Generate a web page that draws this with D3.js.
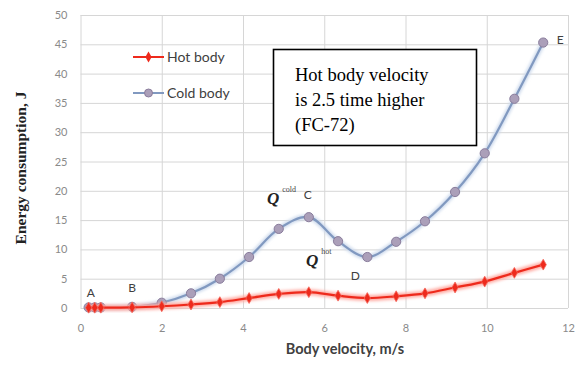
<!DOCTYPE html>
<html>
<head>
<meta charset="utf-8">
<script src="https://cdn.jsdelivr.net/npm/d3@7"></script>
<style>
  html, body { margin: 0; padding: 0; background: #fff; }
  svg { display: block; }
  .tick text { font-family: Lato, "Open Sans", sans-serif; font-size: 11px; fill: #8a8a8a; }
  .grid line { stroke: #d6d6d6; stroke-width: 1; }
  .legend-text { font-family: Lato, "Open Sans", sans-serif; font-size: 14px; fill: #404040; }
  .pt-label { font-family: Lato, "Open Sans", sans-serif; font-size: 12px; fill: #404040; }
</style>
</head>
<body>
<svg id="chart" width="583" height="365"></svg>
<script>
(function () {
  'use strict';

  const W = 583;
  const H = 365;

  // velocity, m/s
  const velocity = [0.2, 0.35, 0.5, 1.27, 2.0, 2.72, 3.43, 4.15, 4.88, 5.62, 6.34, 7.06, 7.77, 8.48, 9.22, 9.95, 10.68, 11.39];
  // energy, J
  const coldBody = [0.1, 0.1, 0.1, 0.2, 0.9, 2.5, 5.0, 8.7, 13.5, 15.5, 11.4, 8.7, 11.3, 14.8, 19.8, 26.4, 35.7, 45.3];
  const hotBody = [0.05, 0.05, 0.05, 0.1, 0.3, 0.6, 1.0, 1.7, 2.4, 2.7, 2.1, 1.7, 2.0, 2.5, 3.5, 4.5, 6.0, 7.4];

  const xTicks = [0, 2, 4, 6, 8, 10, 12];
  const yTicks = [0, 5, 10, 15, 20, 25, 30, 35, 40, 45, 50];

  const seriesNames = ['Hot body', 'Cold body'];
  const noteLines = ['Hot body velocity', 'is 2.5 time higher', '(FC-72)'];

  // letter marks along the cold curve: [point index, label]
  const pointLabels = [[1, 'A'], [3, 'B'], [9, 'C'], [11, 'D'], [17, 'E']];

  const PLOT = { left: 80.5, right: 568, top: 15, bottom: 308 };

  const svg = d3.select('#chart');
  svg.append('rect').attr('width', W).attr('height', H).attr('fill', '#fff');

  const x = d3.scaleLinear().domain([0, 12]).range([PLOT.left, PLOT.right]);
  const y = d3.scaleLinear().domain([0, 50]).range([PLOT.bottom, PLOT.top]);

  const defs = svg.append('defs');
  const glow = defs.append('filter').attr('id', 'glow')
    .attr('x', '-10%').attr('y', '-10%').attr('width', '120%').attr('height', '120%');
  glow.append('feGaussianBlur').attr('stdDeviation', 1.8);

  // gridlines + tick labels
  svg.append('g')
    .attr('class', 'grid')
    .attr('transform', `translate(${PLOT.left},0)`)
    .call(d3.axisLeft(y).tickValues(yTicks).tickSize(-(PLOT.right - PLOT.left)).tickPadding(13))
    .call(g => g.select('.domain').remove());

  svg.append('g')
    .attr('class', 'grid')
    .attr('transform', `translate(0,${PLOT.bottom})`)
    .call(d3.axisBottom(x).tickValues(xTicks).tickSize(-(PLOT.bottom - PLOT.top)).tickPadding(16))
    .call(g => g.select('.domain').remove());

  const line = d3.line().curve(d3.curveCatmullRom.alpha(0.5));
  const coldPts = velocity.map((v, i) => [x(v), y(coldBody[i])]);
  const hotPts = velocity.map((v, i) => [x(v), y(hotBody[i])]);

  // cold body
  svg.append('path').attr('d', line(coldPts))
    .attr('fill', 'none').attr('stroke', '#ccd9ec').attr('stroke-width', 5)
    .attr('filter', 'url(#glow)');
  svg.append('path').attr('d', line(coldPts))
    .attr('fill', 'none').attr('stroke', '#8199c0').attr('stroke-width', 2.2);
  svg.append('g').selectAll('circle')
    .data(coldPts)
    .join('circle')
    .attr('cx', d => d[0]).attr('cy', d => d[1]).attr('r', 4.6)
    .attr('fill', '#ab9fb9').attr('stroke', '#8a7d9c').attr('stroke-width', 1);

  // hot body
  svg.append('path').attr('d', line(hotPts))
    .attr('fill', 'none').attr('stroke', '#ffaaa2').attr('stroke-width', 6)
    .attr('filter', 'url(#glow)');
  svg.append('path').attr('d', line(hotPts))
    .attr('fill', 'none').attr('stroke', '#ee2a1c').attr('stroke-width', 2.2);
  const diamond = d3.symbol().type(d3.symbolDiamond).size(34);
  svg.append('g').selectAll('path')
    .data(hotPts)
    .join('path')
    .attr('transform', d => `translate(${d[0]},${d[1]})`)
    .attr('d', diamond)
    .attr('fill', '#ee2a1c').attr('stroke', '#f46a5e').attr('stroke-width', 0.8);

  // legend
  const legend = svg.append('g');
  const legendRows = [
    { name: seriesNames[0], y: 57, color: '#ee2a1c', mark: 'diamond' },
    { name: seriesNames[1], y: 93, color: '#8199c0', mark: 'circle' }
  ];
  legendRows.forEach(r => {
    legend.append('line')
      .attr('x1', 133).attr('x2', 164).attr('y1', r.y).attr('y2', r.y)
      .attr('stroke', r.color).attr('stroke-width', 2);
    if (r.mark === 'diamond') {
      legend.append('path')
        .attr('transform', `translate(148.5,${r.y})`)
        .attr('d', diamond).attr('fill', '#ee2a1c');
    } else {
      legend.append('circle')
        .attr('cx', 148.5).attr('cy', r.y).attr('r', 4)
        .attr('fill', '#ab9fb9').attr('stroke', '#8a7d9c');
    }
    legend.append('text')
      .attr('class', 'legend-text')
      .attr('x', 167).attr('y', r.y).attr('dy', '0.36em')
      .text(r.name);
  });

  // note box
  svg.append('rect')
    .attr('x', 273.5).attr('y', 49.5).attr('width', 203).attr('height', 96)
    .attr('fill', '#fff').attr('stroke', '#000').attr('stroke-width', 1.6);
  svg.append('text')
    .attr('x', 295).attr('y', 81)
    .attr('font-family', '"Liberation Serif", "Times New Roman", serif')
    .attr('font-size', 18.5).attr('fill', '#000')
    .selectAll('tspan')
    .data(noteLines)
    .join('tspan')
    .attr('x', 295)
    .attr('dy', (d, i) => i === 0 ? 0 : 25)
    .text(d => d);

  // A..E point letters
  const labelOffset = { A: [-4, -15], B: [0, -19], C: [-1, -22], D: [-12, 19], E: [17, -3] };
  svg.append('g').selectAll('text')
    .data(pointLabels)
    .join('text')
    .attr('class', 'pt-label')
    .attr('x', d => x(velocity[d[0]]) + labelOffset[d[1]][0])
    .attr('y', d => y(coldBody[d[0]]) + labelOffset[d[1]][1])
    .attr('text-anchor', 'middle')
    .attr('dy', '0.36em')
    .text(d => d[1]);

  // Q^cold / Q^hot
  const qLabels = [
    { x: 267, y: 204, sup: 'cold' },
    { x: 306, y: 266, sup: 'hot' }
  ];
  qLabels.forEach(q => {
    const t = svg.append('text')
      .attr('x', q.x).attr('y', q.y)
      .attr('font-family', '"Liberation Serif", "Times New Roman", serif')
      .attr('fill', '#222');
    t.append('tspan')
      .attr('font-size', 17).attr('font-style', 'italic').attr('font-weight', 'bold')
      .text('Q');
    t.append('tspan')
      .attr('font-size', 8).attr('dx', 3).attr('dy', -12).attr('fill', '#444')
      .text(q.sup);
  });

  // axis titles
  svg.append('text')
    .attr('x', 345).attr('y', 349)
    .attr('text-anchor', 'middle').attr('dy', '0.36em')
    .attr('font-family', 'Lato, "Open Sans", sans-serif')
    .attr('font-weight', 'bold').attr('font-size', 14.5).attr('fill', '#404040')
    .text('Body velocity, m/s');

  svg.append('text')
    .attr('transform', 'translate(20,168) rotate(-90)')
    .attr('text-anchor', 'middle').attr('dy', '0.36em')
    .attr('font-family', '"Liberation Serif", "Times New Roman", serif')
    .attr('font-weight', 'bold').attr('font-size', 15.5).attr('fill', '#222')
    .text('Energy consumption, J');
})();
</script>
</body>
</html>
